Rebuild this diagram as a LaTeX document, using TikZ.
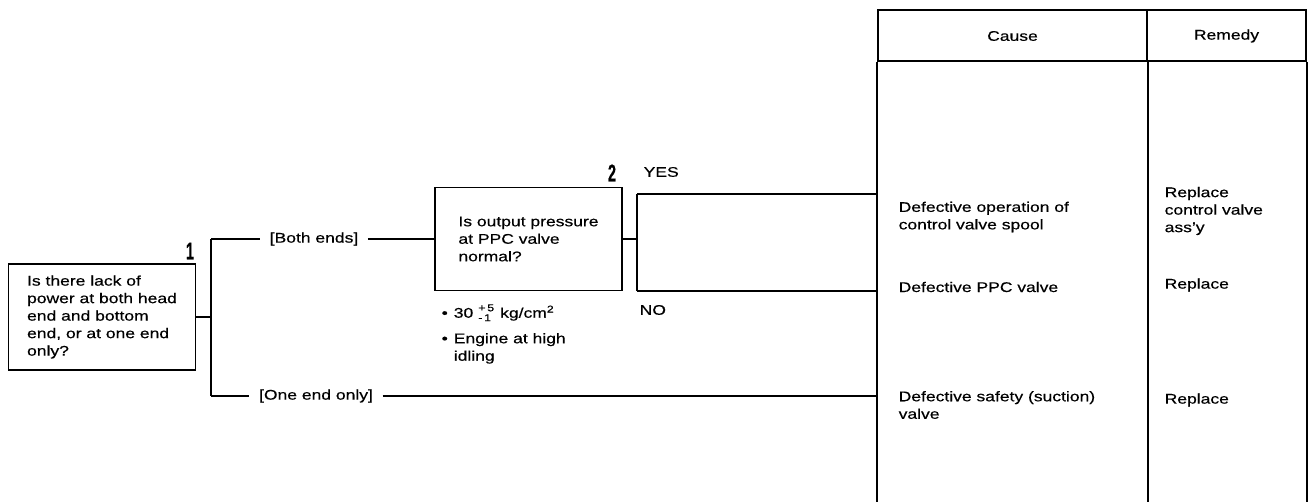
\documentclass[tikz,border=0pt]{standalone}
\usepackage{fontspec}
\setmainfont{Liberation Sans}[FakeStretch=1.25,FakeBold=0.4]
\newfontfamily\numfont{Liberation Sans}[FakeStretch=0.6,FakeBold=0.6]
\begin{document}
\begin{tikzpicture}[x=1pt,y=-1pt,font=\fontsize{14}{17.5}\selectfont,line width=1.4pt,
  qbox/.style={draw,line width=1.7pt,align=left,inner sep=0pt,minimum width=187pt,minimum height=103pt},
  lbl/.style={inner xsep=9pt,inner ysep=0pt},
  txt/.style={anchor=west,align=left,inner sep=0pt},
  num/.style={font=\numfont\bfseries\fontsize{24}{24}\selectfont,inner sep=0pt,anchor=south},
  tab/.style={line width=2pt},
  hcell/.style={draw,tab,inner sep=0pt,minimum height=51pt}]
\fill[white] (0,0) rectangle (1313,502);
\useasboundingbox (0,0) rectangle (1313,502);

% question boxes
\node[qbox,minimum height=106pt] (q1) at (102,317) {Is there lack of\\power at both head\\end and bottom\\end, or at one end\\only?};
\node[num] (n1) at (190,260) {1};
\node[qbox] (q2) at (528.5,239) {Is output pressure\\at PPC valve\\normal?};
\node[num] (n2) at (612,182) {2};

% branch from question 1
\coordinate (ja) at (211,239);
\coordinate (jb) at (211,396);
\draw (q1.east) -- (q1.east -| ja);
\draw (ja) -- (jb);
\node[lbl] (both) at (314,239) {[Both ends]};
\draw (ja) -- (both.west);
\draw (both.east) -- (q2.west);
\node[lbl] (one) at (316,396) {[One end only]};
\draw (jb) -- (one.west);

% table
\node[hcell,minimum width=269pt] (hc) at (1012.5,36) {Cause};
\node[hcell,minimum width=159pt] (hr) at (1226.5,36) {Remedy};
\coordinate (bot) at (0,502);
\draw[tab] (hc.south west) -- (hc.south west |- bot);
\draw[tab] (hc.south east) -- (hc.south east |- bot);
\draw[tab] (hr.south east) -- (hr.south east |- bot);

\draw (one.east) -- (one.east -| hc.west);

% branch from question 2
\coordinate (jy) at (637,194);
\coordinate (jn) at (637,291);
\draw (q2.east) -- (q2.east -| jy);
\draw (jy) -- (jn);
\draw (jy) -- (jy -| hc.west);
\draw (jn) -- (jn -| hc.west);
\node[txt] (yes) at (643,172) {YES};
\node[txt] (no) at (639,310) {NO};

% notes under question 2
\node[txt] (note) at (441,334) {\textbullet\hspace{6pt}30\hspace{5pt}\raisebox{-3.5pt}{\fontsize{10}{10}\selectfont\shortstack[l]{+\,5\\-\,1}}\hspace{6pt}kg/cm\textsuperscript{2}\\[8pt]\textbullet\hspace{6pt}Engine at high\\\hphantom{\textbullet\hspace{6pt}}idling};

% causes and remedies
\node[txt] (c1) at (898,217) {Defective operation of\\control valve spool};
\node[txt] (r1) at (1164,211) {Replace\\control valve\\ass'y};
\node[txt] (c2) at (898,287) {Defective PPC valve};
\node[txt] (r2) at (1164,285) {Replace};
\node[txt] (c3) at (898,405) {Defective safety (suction)\\valve};
\node[txt] (r3) at (1164,400) {Replace};
\end{tikzpicture}
\end{document}
